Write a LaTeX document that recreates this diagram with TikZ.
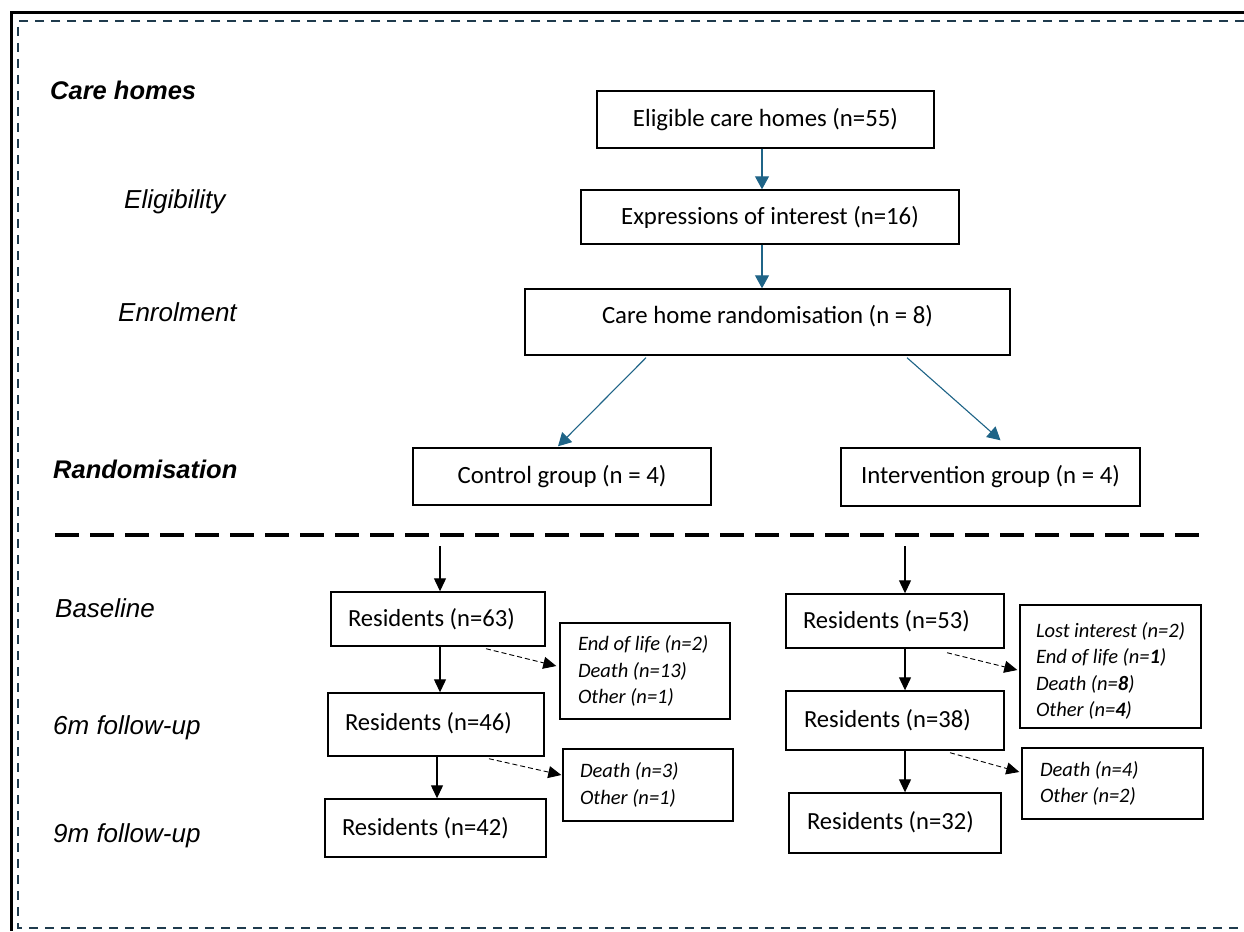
\documentclass[tikz,border=0pt]{standalone}
\usepackage{fontspec}
\setmainfont{Carlito}
\newfontfamily\arialfont{Liberation Sans}
\usetikzlibrary{arrows.meta,calc}
\definecolor{arrowblue}{HTML}{1F6487}
\definecolor{frameblue}{HTML}{1F3B4D}
\begin{document}
\begin{tikzpicture}[x=1pt,y=-1pt,
  box/.style={draw=black,line width=1.4pt,inner sep=0pt,align=center,
    font=\fontsize{24.8}{29}\selectfont},
  resbox/.style={draw=black,line width=1.4pt,inner ysep=0pt,align=flush left,
    font=\fontsize{24.6}{29}\selectfont},
  listbox/.style={draw=black,line width=1.4pt,inner ysep=0pt,align=flush left,
    font=\fontsize{20.5}{26.5}\selectfont\itshape},
  phase/.style={anchor=base west,inner sep=0pt,
    font=\arialfont\fontsize{26}{30}\selectfont\itshape},
  phasebold/.style={anchor=base west,inner sep=0pt,
    font=\arialfont\fontsize{25.5}{30}\selectfont\bfseries\itshape},
  bluearrow/.style={draw=arrowblue,line width=1.1pt,-{Triangle[width=14pt,length=13pt]},fill=arrowblue},
  blackarrow/.style={draw=black,line width=1.2pt,-{Triangle[width=12pt,length=13pt]}},
  dasharrow/.style={draw=black,line width=0.9pt,dash pattern=on 5pt off 3pt,
    -{Triangle[width=12pt,length=13pt]}},
]
\useasboundingbox (0,0) rectangle (1244,931);
% frames
\draw[line width=3pt,black] (1244,13) -- (11.5,13) -- (11.5,931);
\draw[line width=2pt,frameblue,dash pattern=on 9pt off 7pt] (1244,21) -- (18,21) -- (18,928) -- (1244,928);

% phase labels
\node[phasebold] (lcare) at (50,100) {Care homes};
\node[phase] (lelig) at (124,208) {Eligibility};
\node[phase] (lenr) at (118,321) {Enrolment};
\node[phasebold] (lrand) at (53,478) {Randomisation};
\node[phase] (lbase) at (55,617) {Baseline};
\node[phase] (l6m) at (53,734) {6m follow-up};
\node[phase] (l9m) at (53,842) {9m follow-up};

% top boxes
\node[box,minimum width=337pt,minimum height=57pt] (elig) at (765.5,119.5) {\raisebox{2pt}{Eligible care homes (n=55)}};
\node[box,minimum width=378pt,minimum height=54pt] (expr) at (770,217) {Expressions of interest (n=16)};
\node[box,minimum width=485pt,minimum height=66pt] (rand) at (767.5,322) {\raisebox{16pt}{Care home randomisation (n = 8)}};
\node[box,minimum width=298pt,minimum height=57pt] (ctrl) at (562,476.5) {\raisebox{4pt}{Control group (n = 4)}};
\node[box,minimum width=299pt,minimum height=58pt] (intv) at (990.5,477) {\raisebox{4pt}{Intervention group (n = 4)}};

\draw[bluearrow] (elig.south -| 762,0) -- (expr.north -| 762,0);
\draw[bluearrow] (expr.south -| 762,0) -- (rand.north -| 762,0);
\draw[bluearrow] ($(rand.south)+(-121.5,2)$) -- ($(ctrl.north)+(-4,-1)$);
\draw[bluearrow] ($(rand.south)+(139.5,2)$) -- ($(intv.north)+(10,-7)$);

% separator
\draw[line width=4pt,black,dash pattern=on 24pt off 11pt] (55,535) -- (1205,535);

% control arm
\coordinate (cstart) at (440,546);
\node[resbox,minimum height=54pt,text width=180pt,inner xsep=17pt] (r63) at (438,619) {\raisebox{4pt}{Residents (n=63)}};
\node[resbox,minimum height=63pt,text width=182pt,inner xsep=17pt] (r46) at (436,724.5) {\raisebox{6pt}{Residents (n=46)}};
\node[resbox,minimum height=58pt,text width=187pt,inner xsep=17pt] (r42) at (435.5,828) {\raisebox{3pt}{Residents (n=42)}};
\node[listbox,minimum height=96pt,text width=134pt,inner xsep=18pt] (l1) at (645,671) {End of life (n=2)\\Death (n=13)\\Other (n=1)};
\node[listbox,minimum height=72pt,text width=136pt,inner xsep=17pt] (l2) at (648,785) {Death (n=3)\\Other (n=1)};

\draw[blackarrow] (cstart) -- (r63.north -| cstart);
\draw[blackarrow] (r63.south -| cstart) -- (r46.north -| cstart);
\draw[blackarrow] ($(r46.south)+(1,0)$) -- ($(r42.north)+(1.5,0)$);
\draw[dasharrow] ($(r63.south)+(48,2)$) -- ($(l1.west)+(-3,-5)$);
\draw[dasharrow] ($(r46.south)+(53,2)$) -- ($(l2.west)+(-1,-10)$);

% intervention arm
\coordinate (istart) at (905,546);
\node[resbox,minimum height=54pt,text width=184pt,inner xsep=17pt] (r53) at (895,621) {\raisebox{2pt}{Residents (n=53)}};
\node[resbox,minimum height=59pt,text width=182pt,inner xsep=18pt] (r38) at (895,720.5) {\raisebox{5pt}{Residents (n=38)}};
\node[resbox,minimum height=60pt,text width=176pt,inner xsep=18pt] (r32) at (895,823) {\raisebox{5pt}{Residents (n=32)}};
\node[listbox,minimum height=123pt,text width=149pt,inner xsep=16pt] (l3) at (1110.5,666.5) {\rule{0pt}{24pt}Lost interest (n=2)\\End of life (n=\textbf{1})\\Death (n=\textbf{8})\\Other (n=\textbf{4})};
\node[listbox,minimum height=71pt,text width=145pt,inner xsep=18pt] (l4) at (1112.5,783.5) {Death (n=4)\\Other (n=2)};

\draw[blackarrow] (istart) -- (r53.north -| istart);
\draw[blackarrow] (r53.south -| istart) -- (r38.north -| istart);
\draw[blackarrow] (r38.south -| istart) -- (r32.north -| istart);
\draw[dasharrow] ($(r53.south)+(52,4)$) -- ($(l3.west)+(-2,3.5)$);
\draw[dasharrow] ($(r38.south)+(55,2)$) -- ($(l4.west)+(-2,-11.5)$);
\end{tikzpicture}
\end{document}
